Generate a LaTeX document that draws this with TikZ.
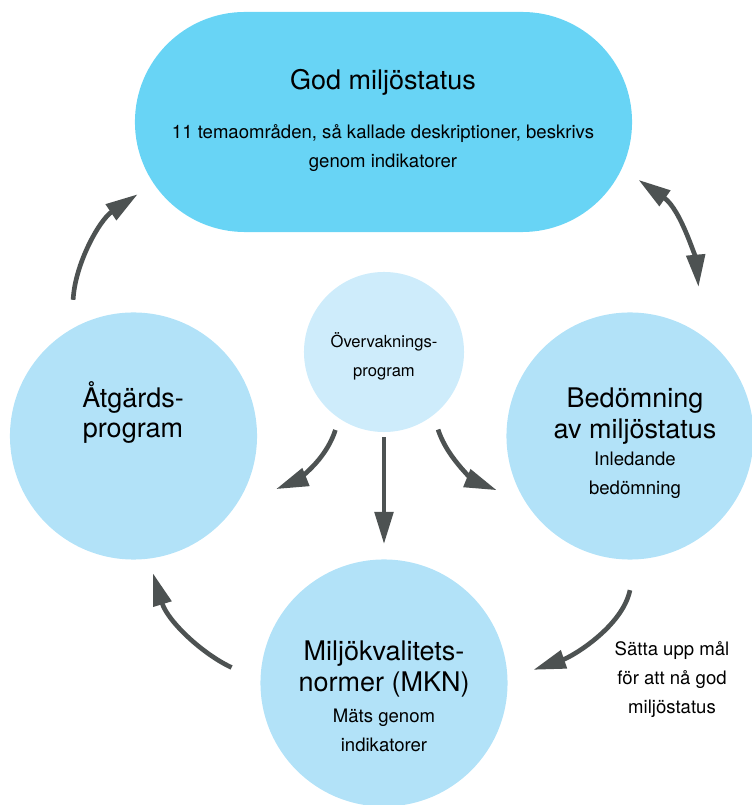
\documentclass[tikz,border=0pt]{standalone}
\usepackage{fontspec}
\setmainfont{TeX Gyre Heros}
\usepackage{xcolor}
\usetikzlibrary{arrows.meta, shapes.misc}

\definecolor{godblue}{RGB}{104,212,245}
\definecolor{blobblue}{RGB}{178,226,248}
\definecolor{hubblue}{RGB}{206,236,251}
\definecolor{arrowgray}{RGB}{77,82,82}

\tikzset{
  blob/.style={circle, fill=blobblue, minimum size=6.175cm, inner sep=0pt},
  hub/.style={circle, fill=hubblue, minimum size=4cm, inner sep=0pt},
  pill/.style={rounded rectangle, fill=godblue, minimum width=12.425cm, minimum height=5.5cm, inner sep=0pt},
  headtext/.style={align=center, font=\fontsize{19.2}{22}\selectfont},
  subtext/.style={align=center, font=\fontsize{13.2}{20.6}\selectfont},
  hubtext/.style={align=center, font=\fontsize{11.8}{20.6}\selectfont},
  flow/.style={line width=3.3pt, color=arrowgray, ->},
}

\begin{document}
\begin{tikzpicture}[x=0.025cm, y=0.025cm, >={Triangle[length=23pt,width=13pt]}]
    \useasboundingbox (0,0) rectangle (752,805);
    % the five fields
    \node[pill] (god) at (383.5,683) {};
    \node[blob] (atg) at (133.5,369) {};
    \node[blob] (bed) at (630,369) {};
    \node[blob] (mkn) at (384,122) {};
    \node[hub] (ovr) at (384,453) {};
    % texts
    \node[headtext] (godhead) at (383,723) {God miljöstatus};
    \node[subtext] (godsub) at (383,657) {11 temaområden, så kallade deskriptioner, beskrivs\\genom indikatorer};
    \node[headtext] (atghead) at (133,392.5) {Åtgärds-\\program};
    \node[hubtext] (ovrtext) at (384,448.5) {Övervaknings-\\program};
    \node[headtext] (bedhead) at (635,388.5) {Bedömning\\av miljöstatus};
    \node[subtext] (bedsub) at (635,330) {Inledande\\bedömning};
    \node[headtext] (mknhead) at (384,136) {Miljökvalitets-\\normer (MKN)};
    \node[subtext] (mknsub) at (384,74.5) {Mäts genom\\indikatorer};
    \node[subtext] (goal) at (672,125) {Sätta upp mål\\för att nå god\\miljöstatus};
    % the cycle
    \path[flow]
      (atg.120) edge[out=87, in=214, shorten <=0.725cm, shorten >=0.475cm] (god.195)
      (god.-11.6) edge[<->, out=-35, in=95, shorten <=0.5cm, shorten >=1.225cm] (bed.54.2)
      (bed.-87.9) edge[out=-102, in=19, shorten <=0.78cm, shorten >=0.68cm] (mkn.2.9)
      (mkn.179.2) edge[out=155, in=-73, shorten <=0.79cm, shorten >=0.375cm] (atg.-83.4);
    % from the monitoring
    \path[flow]
      (ovr.236.4) edge[out=-108, in=22, shorten <=0.3cm, shorten >=1.075cm] (atg.-34.6)
      (ovr.south) edge[shorten <=0.125cm, shorten >=0.375cm] (mkn.north)
      (ovr.-52.8) edge[out=-72, in=158, shorten <=0.375cm, shorten >=0.76cm] (bed.212);
\end{tikzpicture}
\end{document}
